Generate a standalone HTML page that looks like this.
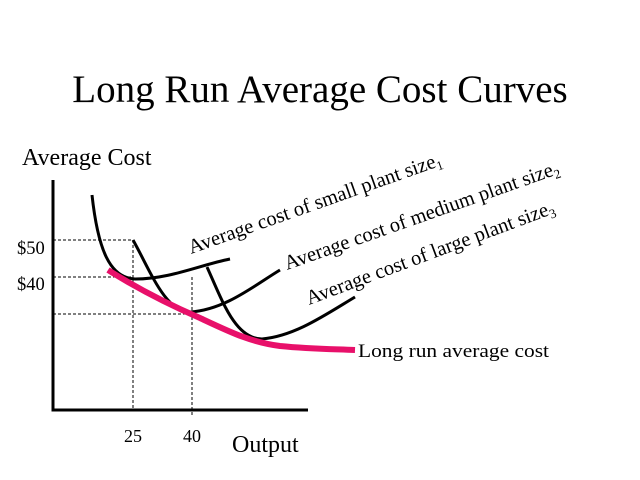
<!DOCTYPE html>
<html><head><style>
html,body{margin:0;padding:0;background:#fff;}
svg{display:block;}
text{font-family:"Liberation Serif",serif;fill:#000;}
</style></head><body>
<svg width="640" height="480" viewBox="0 0 640 480">
<text x="320" y="102" font-size="39" text-anchor="middle">Long Run Average Cost Curves</text>
<text x="22" y="165" font-size="24">Average Cost</text>
<text x="232" y="452" font-size="24">Output</text>
<text x="17" y="254" font-size="18.5">$50</text>
<text x="17" y="290" font-size="18.5">$40</text>
<text x="124" y="442" font-size="18">25</text>
<text x="183" y="442" font-size="18">40</text>
<text x="358" y="357" font-size="18.5" textLength="191" lengthAdjust="spacingAndGlyphs">Long run average cost</text>
<g stroke="#000" stroke-width="1" stroke-dasharray="3,2" fill="none">
<line x1="53" y1="240" x2="133" y2="240"/>
<line x1="53" y1="277" x2="133" y2="277"/>
<line x1="53" y1="314" x2="192" y2="314"/>
<line x1="133" y1="240" x2="133" y2="410"/>
<line x1="192" y1="277" x2="192" y2="415"/>
</g>
<path d="M53,180 V410 H308" stroke="#000" stroke-width="3" fill="none"/>
<g stroke="#000" stroke-width="3" fill="none">
<path d="M92,195 C98,250 110,278 135,279 C170,279 200,265 230,259"/>
<path d="M133,240 C150,270 165,312 190,312 C225,310 255,285 280,270"/>
<path d="M207,267 C222,300 235,339 262,339 C295,336 325,315 355,297"/>
</g>
<path d="M108,270 C140,290 170,305 200,318 C230,332 250,342 280,346 C310,349 330,349 355,350" stroke="#e8106a" stroke-width="6" fill="none"/>
<g font-size="20.5">
<text transform="translate(191,254) rotate(-19.5)">Average cost of small plant size<tspan font-size="13" dy="4">1</tspan></text>
<text transform="translate(287,270) rotate(-19.5)">Average cost of medium plant size<tspan font-size="13" dy="4">2</tspan></text>
<text transform="translate(309,305) rotate(-20.5)">Average cost of large plant size<tspan font-size="13" dy="4">3</tspan></text>
</g>
</svg>
</body></html>
